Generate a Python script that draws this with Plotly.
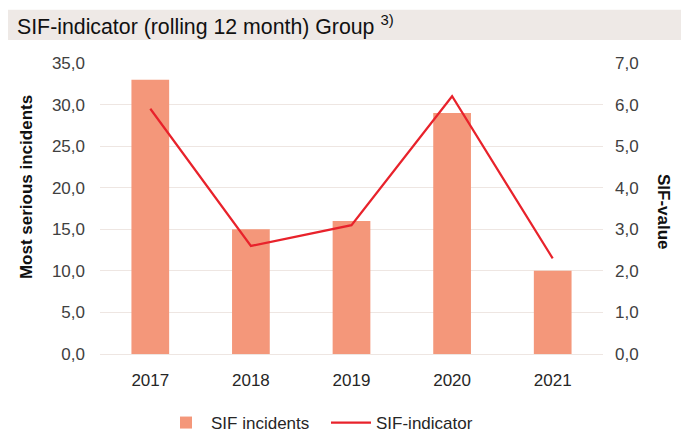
import plotly.graph_objects as go

years = ["2017", "2018", "2019", "2020", "2021"]
sif_incidents = [33, 15, 16, 29, 10]
sif_indicator = [5.9, 2.6, 3.1, 6.2, 2.3]

W, H = 681, 432
L, R, T, B = 100, 603, 62.5, 354.5
pw, ph = R - L, B - T

def px_x(p):
    return (p - L) / pw

def px_y(p):
    return (B - p) / ph

font_family = "Liberation Sans, Arial, sans-serif"
bar_color = "#F4977A"
line_color = "#E8222B"
grid_color = "#EEE6E2"
tick_color = "#404040"

fig = go.Figure()
fig.add_trace(go.Bar(
    x=years, y=sif_incidents, name="SIF incidents",
    marker=dict(color=bar_color, line=dict(width=0)),
    width=0.375, yaxis="y",
))
fig.add_trace(go.Scatter(
    x=years, y=sif_indicator, name="SIF-indicator", mode="lines",
    line=dict(color=line_color, width=2.2), yaxis="y2",
))

fig.update_layout(
    width=W, height=H,
    margin=dict(l=L, r=W - R, t=T, b=H - B, pad=0),
    paper_bgcolor="white", plot_bgcolor="white",
    separators=",.",
    font=dict(family=font_family, size=17, color=tick_color),
    xaxis=dict(
        showgrid=False, showline=False, zeroline=False,
        ticks="", ticklabelstandoff=14,
        tickfont=dict(size=17, color="#262626"),
    ),
    yaxis=dict(
        range=[0, 35], dtick=5, tickformat=".1f",
        showgrid=True, gridcolor=grid_color, gridwidth=1,
        zeroline=True, zerolinecolor=grid_color, zerolinewidth=1,
        showline=False, ticks="", ticklabelstandoff=14,
        tickfont=dict(size=17, color=tick_color),
    ),
    yaxis2=dict(
        range=[0, 7], dtick=1, tickformat=".1f",
        overlaying="y", side="right",
        showgrid=False, zeroline=False, showline=False,
        ticks="", ticklabelstandoff=11,
        tickfont=dict(size=17, color=tick_color),
    ),
    showlegend=True,
    legend=dict(
        orientation="h", xref="container", yref="container",
        x=161 / W, xanchor="left",
        y=1 - 423 / H, yanchor="middle",
        font=dict(size=17, color="#262626"),
        itemwidth=40, tracegroupgap=0, entrywidth=110,
        bgcolor="rgba(0,0,0,0)",
    ),
    bargap=0.6,
)

fig.add_shape(
    type="rect", xref="paper", yref="paper",
    x0=px_x(8), x1=px_x(681), y0=px_y(39.5), y1=px_y(9),
    fillcolor="#EEE9E6", line=dict(width=0), layer="below",
)

fig.add_annotation(
    xref="paper", yref="paper", x=px_x(15), y=px_y(24.5),
    xanchor="left", yanchor="middle", showarrow=False,
    text="SIF-indicator (rolling 12 month) Group <sup>3)</sup>",
    font=dict(family=font_family, size=21.3, color="#111111"),
)
fig.add_annotation(
    xref="paper", yref="paper", x=px_x(26), y=px_y(187),
    xanchor="center", yanchor="middle", showarrow=False, textangle=-90,
    text="<b>Most serious incidents</b>",
    font=dict(family=font_family, size=17, color="#111111"),
)
fig.add_annotation(
    xref="paper", yref="paper", x=px_x(663), y=px_y(212),
    xanchor="center", yanchor="middle", showarrow=False, textangle=90,
    text="<b>SIF-value</b>",
    font=dict(family=font_family, size=17, color="#111111"),
)

fig.write_html(
    "out.html",
    config={"displayModeBar": False},
    post_script="document.body.style.margin='0';document.body.style.overflow='hidden';",
)
